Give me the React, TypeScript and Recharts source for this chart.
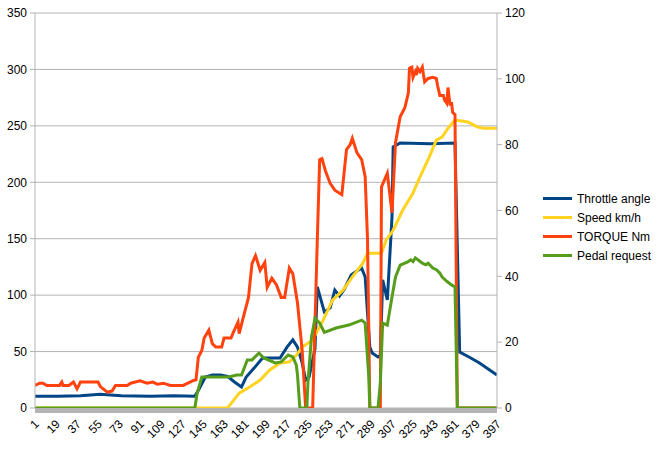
import React from "react";
import { LineChart, Line, XAxis, YAxis, CartesianGrid } from "recharts";

// [sample index, value] pairs
const throttleAngle: [number, number][] = [
  [1, 3.6], [20, 3.6], [40, 3.7], [57, 4.2], [75, 3.7], [100, 3.6], [120, 3.7], [138, 3.6],
  [142, 6], [147, 9.4], [153, 10], [160, 10], [166, 9.6], [172, 7.9], [178, 6.4], [182, 9.4],
  [189, 12.2], [196, 15.2], [211, 15.2], [217, 18.5], [222, 20.7], [226, 18.5], [230, 13.7],
  [233, 8.5], [236, 9.5], [241, 18], [243, 36.8], [249, 29.2], [254, 30.4], [258, 35.8],
  [262, 34], [266, 36], [272, 40.4], [278, 41.9], [281, 42.5], [284, 39.8], [286, 28.9],
  [288, 18.5], [290, 16.7], [295, 15.5], [297, 16], [299, 38.9], [303, 32.8], [307, 58],
  [308, 79.3], [314, 80.5], [340, 80.3], [361, 80.5], [365, 17], [373, 15.5], [382, 13.7],
  [391, 11.5], [397, 10],
];

const speedKmh: [number, number][] = [
  [1, 0], [166, 0], [170, 1.8], [176, 4.5], [185, 6.4], [194, 8.5], [202, 11.5], [211, 13.7],
  [219, 14], [225, 16], [230, 18.5], [239, 20.7], [248, 26.7], [256, 32.8], [265, 35.8],
  [273, 39.8], [282, 44], [286, 47], [298, 47], [302, 51], [308, 54], [316, 60], [325, 65.3],
  [331, 70.2], [339, 76.3], [345, 81.4], [350, 82.3], [355, 85], [361, 87.5], [367, 87.2],
  [372, 86.9], [380, 85.4], [385, 85], [397, 85],
];

const torqueNm: [number, number][] = [
  [1, 20], [5, 22], [8, 22], [11, 20], [20, 20], [22, 20], [24, 23], [25, 20], [30, 20],
  [34, 23], [37, 17], [40, 23], [48, 23], [55, 23], [57, 19], [63, 14], [67, 15], [70, 20],
  [80, 20], [83, 22], [91, 24], [97, 22], [102, 23], [106, 21], [111, 22], [117, 20],
  [128, 20], [132, 22], [136, 24], [139, 25], [141, 45], [144, 51], [146, 62], [150, 69],
  [153, 57], [156, 54], [161, 54], [163, 62], [169, 62], [171, 67], [175, 76], [176, 66],
  [179, 78], [184, 98], [187, 128], [190, 135], [194, 122], [198, 129], [200, 107],
  [204, 115], [208, 109], [212, 98], [215, 98], [219, 124], [222, 119], [226, 93], [230, 51],
  [233, 0], [239, 0], [243, 150], [245, 220], [247, 221], [250, 210], [254, 199], [258, 193],
  [264, 189], [268, 229], [271, 233], [273, 239], [277, 226], [281, 220], [284, 205],
  [286, 150], [288, 0], [297, 0], [298, 196], [303, 208], [307, 173], [310, 235], [314, 258],
  [318, 266], [321, 279], [322, 301], [324, 302], [325, 293], [327, 298], [328, 295],
  [329, 301], [331, 298], [333, 302], [334, 295], [335, 289], [338, 292], [342, 293],
  [345, 292], [346, 286], [348, 277], [351, 277], [352, 273], [354, 270], [355, 284],
  [356, 275], [357, 268], [358, 271], [359, 262], [361, 260], [363, 0], [397, 0],
];

const pedalRequest: [number, number][] = [
  [1, 0], [138, 0], [140, 4.5], [144, 9.4], [156, 9.4], [167, 9.4], [174, 10], [178, 10],
  [183, 14.6], [187, 14.6], [193, 16.7], [197, 15.2], [207, 13.7], [212, 14], [218, 16.1],
  [222, 15.5], [225, 13], [226, 10], [228, 0], [234, 0], [235, 8], [238, 21.6], [241, 27.3],
  [245, 25.8], [249, 23], [259, 24.3], [270, 25.2], [281, 26.7], [284, 25.8], [287, 10],
  [288, 0], [295, 0], [297, 7.6], [299, 25.8], [303, 25.2], [307, 33.7], [310, 39.8],
  [314, 43.4], [320, 44.3], [323, 45], [325, 44.5], [327, 45.6], [330, 44.8], [333, 44],
  [336, 43.5], [338, 44], [342, 42.5], [345, 42], [348, 41], [350, 39.8], [354, 38.5],
  [358, 37.4], [361, 36.8], [363, 0], [397, 0],
];

const xTicks = [1, 19, 37, 55, 73, 91, 109, 127, 145, 163, 181, 199, 217, 235, 253, 271, 289, 307, 325, 343, 361, 379, 397];
const leftTicks = [0, 50, 100, 150, 200, 250, 300, 350];
const rightTicks = [0, 20, 40, 60, 80, 100, 120];

const series = [
  { name: "Throttle angle", color: "#004586", points: throttleAngle, axis: "right" },
  { name: "Speed km/h", color: "#ffd320", points: speedKmh, axis: "right" },
  { name: "TORQUE Nm", color: "#ff420e", points: torqueNm, axis: "left" },
  { name: "Pedal request", color: "#579d1c", points: pedalRequest, axis: "right" },
];

const FONT = "'Liberation Sans', Arial, sans-serif";
const GRID = "#b3b3b3";

const XTick = (props: any) => {
  const { x, y, payload } = props;
  const ty = y + 6;
  return (
    <text
      x={x + 2}
      y={ty}
      dy={4}
      transform={`rotate(-45 ${x + 2} ${ty})`}
      textAnchor="end"
      fontSize={12}
      fontFamily={FONT}
      fill="#000"
    >
      {payload.value}
    </text>
  );
};

export default function App() {
  return (
    <div style={{ position: "absolute", left: 0, top: 0, width: 659, height: 455, background: "#fff", fontFamily: FONT }}>
      <LineChart width={659} height={455} margin={{ top: 13, right: 132, bottom: 0, left: 0 }}>
        <CartesianGrid yAxisId="left" vertical={false} stroke={GRID} strokeWidth={1} />
        <XAxis
          type="number"
          dataKey="x"
          domain={[1, 397]}
          ticks={xTicks}
          interval={0}
          height={47}
          tickLine={false}
          axisLine={{ stroke: GRID, strokeWidth: 5, transform: "translate(0,2.5)" }}
          tick={<XTick />}
          allowDataOverflow
        />
        <YAxis
          yAxisId="left"
          domain={[0, 350]}
          ticks={leftTicks}
          width={35}
          tickSize={5}
          tickMargin={3}
          axisLine={{ stroke: GRID }}
          tickLine={{ stroke: GRID }}
          tick={{ fontSize: 12, fill: "#000", fontFamily: FONT }}
        />
        <YAxis
          yAxisId="right"
          orientation="right"
          domain={[0, 120]}
          ticks={rightTicks}
          width={30}
          tickSize={5}
          tickMargin={3}
          axisLine={{ stroke: GRID }}
          tickLine={{ stroke: GRID }}
          tick={{ fontSize: 12, fill: "#000", fontFamily: FONT }}
        />
        {series.map((s) => (
          <Line
            key={s.name}
            yAxisId={s.axis}
            data={s.points.map(([x, v]) => ({ x, v }))}
            dataKey="v"
            name={s.name}
            type="linear"
            stroke={s.color}
            strokeWidth={3}
            dot={false}
            isAnimationActive={false}
          />
        ))}
      </LineChart>
      <div style={{ position: "absolute", left: 543, top: 189 }}>
        {series.map((s) => (
          <div key={s.name} style={{ display: "flex", alignItems: "center", height: 19, fontSize: 12, color: "#000" }}>
            <span style={{ display: "inline-block", width: 29, height: 3, background: s.color, marginRight: 5 }} />
            <span>{s.name}</span>
          </div>
        ))}
      </div>
    </div>
  );
}
